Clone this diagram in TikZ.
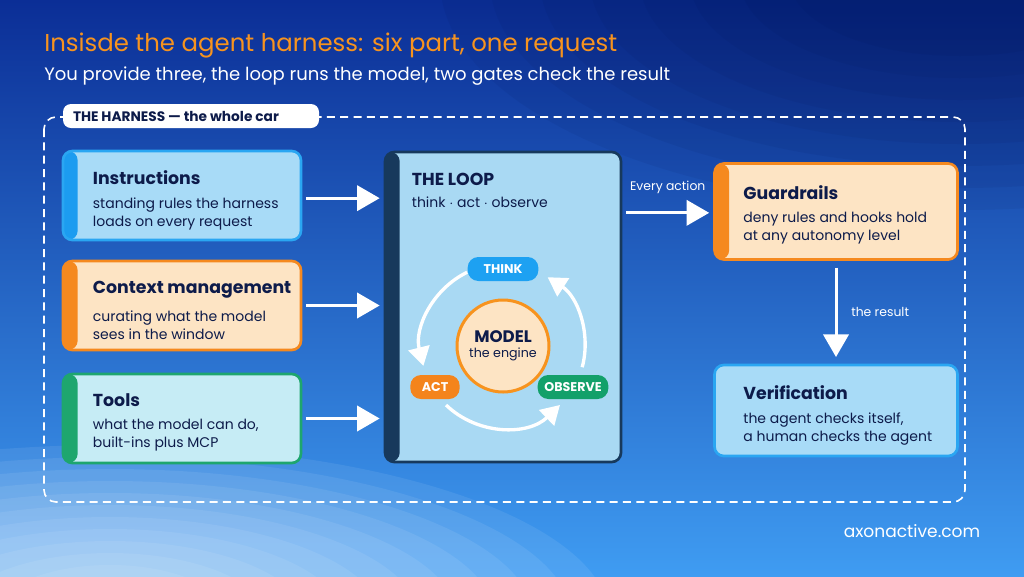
\documentclass[tikz,border=0pt]{standalone}
\usepackage{fontspec}
\setmainfont{Poppins}
\usetikzlibrary{arrows.meta}
\usetikzlibrary{positioning}

\definecolor{navy}{HTML}{0D1B4A}
\definecolor{hdorange}{HTML}{F7931E}
\definecolor{skyfill}{HTML}{A8DBF7}
\definecolor{skyline}{HTML}{2AA6F2}
\definecolor{skystripe}{HTML}{1C9CF0}
\definecolor{creamfill}{HTML}{FDE4C4}
\definecolor{orangeline}{HTML}{F5891F}
\definecolor{mintfill}{HTML}{C6ECF5}
\definecolor{greenline}{HTML}{1EA66E}
\definecolor{loopfill}{HTML}{A9D9F3}
\definecolor{loopline}{HTML}{17395C}
\definecolor{thinkblue}{HTML}{1DA1F2}
\definecolor{actorange}{HTML}{F4841C}
\definecolor{obsgreen}{HTML}{12A06A}
\definecolor{bgtop}{HTML}{0B2E96}
\definecolor{bgmid}{HTML}{075CE8}
\definecolor{bgbot}{HTML}{3F9CF2}
\definecolor{bgdark}{HTML}{04124F}

\tikzset{
    card/.style={rounded corners=7pt, line width=2pt, inner sep=0pt},
    stripe/.style={path picture={\fill[#1] (path picture bounding box.south west) rectangle ([xshift=11pt]path picture bounding box.north west);}},
    head/.style={anchor=north west, inner sep=0pt, text=navy, font=\fontsize{13}{15}\selectfont\bfseries},
    desc/.style={anchor=north west, inner sep=0pt, align=left, text=navy, font=\fontsize{10.5}{13.5}\selectfont},
    pill/.style={rounded corners=8pt, inner sep=0pt, minimum height=18pt, text=white, font=\fontsize{9.5}{11}\selectfont\bfseries},
    bigarrow/.style={white, line width=2.25pt, -{Triangle[length=17pt,width=19pt]}},
    cyc/.style={white, line width=2.5pt, -{Triangle[length=14pt,width=16pt]}},
    note/.style={text=white, font=\fontsize{9.3}{11}\selectfont}
}

\begin{document}
\begin{tikzpicture}[x=0.75pt, y=-0.75pt]
\useasboundingbox (0,0) rectangle (1024,576);
% background
\shade[top color=bgtop, middle color=bgmid, bottom color=bgbot] (0,0) rectangle (1024,576);
\foreach \i in {0,...,11}
    \fill[white, opacity=0.08] (110,620) ellipse ({500-38*\i} and {175-12*\i});
\foreach \i in {0,...,7}
    \fill[bgdark, opacity=0.07] (960,-20) ellipse ({520-50*\i} and {230-22*\i});

% title
\node[anchor=west, inner sep=0pt, text=hdorange, font=\fontsize{18.3}{21}\selectfont] (title) at (44,46) {Insisde the agent harness: six part, one request};
\node[anchor=west, inner sep=0pt, text=white, font=\fontsize{13.5}{16}\selectfont] (subtitle) at (44,76) {You provide three, the loop runs the model, two gates check the result};

% harness frame
\draw[white, line width=1.2pt, dash pattern=on 6pt off 4pt, rounded corners=9pt] (44,117) rectangle (965,502);
\node[fill=white, rounded corners=6pt, minimum width=192pt, minimum height=18pt, inner sep=0pt] (harness) at (191,116) {};
\node[anchor=west, inner sep=0pt, text=navy, font=\fontsize{10.3}{12}\selectfont\bfseries] (harnesstext) at ([xshift=7.5pt]harness.west) {THE HARNESS --- the whole car};

% the three inputs
\node[card, draw=skyline, fill=skyfill, stripe=skystripe, minimum width=178.5pt, minimum height=66.75pt] (instr) at (182,195.5) {};
\node[head] (instrhead) at ([shift={(31,21)}]instr.north west) {Instructions};
\node[desc, below=9pt of instrhead.south west, anchor=north west] (instrdesc) {standing rules the harness\\loads on every request};

\node[card, draw=orangeline, fill=creamfill, stripe=orangeline, minimum width=178.5pt, minimum height=66.75pt] (ctx) at (182,305.5) {};
\node[head] (ctxhead) at ([shift={(31,21)}]ctx.north west) {Context management};
\node[desc, below=9pt of ctxhead.south west, anchor=north west] (ctxdesc) {curating what the model\\sees in the window};

\node[card, draw=greenline, fill=mintfill, stripe=greenline, minimum width=178.5pt, minimum height=66.75pt] (tools) at (182,418.5) {};
\node[head] (toolshead) at ([shift={(31,21)}]tools.north west) {Tools};
\node[desc, below=9pt of toolshead.south west, anchor=north west] (toolsdesc) {what the model can do,\\built-ins plus MCP};

% the loop
\node[card, draw=loopline, fill=loopfill, stripe=loopline, minimum width=177pt, minimum height=232.5pt] (loop) at (503,307) {};
\node[head] (loophead) at ([shift={(28,22)}]loop.north west) {THE LOOP};
\node[desc, below=8pt of loophead.south west, anchor=north west] (loopdesc) {think $\cdot$ act $\cdot$ observe};

\coordinate (C) at (503,346);
\node[circle, draw=hdorange, line width=2.25pt, fill=creamfill, minimum size=69pt, inner sep=0pt, align=center, text=navy] (model) at (C) {{\fontsize{12.5}{14}\selectfont\bfseries MODEL}\\[-1pt]{\fontsize{9.5}{11}\selectfont the engine}};
\node[pill, fill=thinkblue, minimum width=53pt] (think) at (503,269) {THINK};
\node[pill, fill=actorange, minimum width=37pt] (act) at (435,387) {ACT};
\node[pill, fill=obsgreen, minimum width=53pt] (observe) at (573,387) {OBSERVE};

% cycle arrows
\draw[cyc] ([shift={(244:82)}]C) arc[start angle=244, end angle=166, radius=82];
\draw[cyc] ([shift={(134:82)}]C) arc[start angle=134, end angle=46, radius=82];
\draw[cyc] ([shift={(15:82)}]C) arc[start angle=15, end angle=-57, radius=82];

% gates
\node[card, draw=orangeline, fill=creamfill, stripe=orangeline, minimum width=182.25pt, minimum height=72pt] (guard) at (836,211.5) {};
\node[head] (guardhead) at ([shift={(30,23)}]guard.north west) {Guardrails};
\node[desc, below=9pt of guardhead.south west, anchor=north west] (guarddesc) {deny rules and hooks hold\\at any autonomy level};

\node[card, draw=skyline, fill=skyfill, minimum width=182.25pt, minimum height=68.25pt] (verif) at (836,410.5) {};
\node[head] (verifhead) at ([shift={(30,22)}]verif.north west) {Verification};
\node[desc, below=9pt of verifhead.south west, anchor=north west] (verifdesc) {the agent checks itself,\\a human checks the agent};

% connectors
\draw[bigarrow, shorten <=3pt, shorten >=3pt] ([yshift=-2pt]instr.east) -- ([yshift=-2pt]instr.east -| loop.west);
\draw[bigarrow, shorten <=3pt, shorten >=3pt] (ctx.east) -- (ctx.east -| loop.west);
\draw[bigarrow, shorten <=3pt, shorten >=3pt] (tools.east) -- (tools.east -| loop.west);
\draw[bigarrow, shorten <=3pt, shorten >=3pt] ([yshift=-1pt]guard.west -| loop.east) -- ([yshift=-1pt]guard.west) node[note, pos=0.5, above=10pt] (every) {Every action};
\draw[bigarrow, shorten <=5pt, shorten >=5pt] (guard.south) -- (verif.north) node[note, pos=0.5, right=7pt] (result) {the result};

% footer
\node[text=white, inner sep=0pt, font=\fontsize{12.8}{15}\selectfont] (site) at (912,531) {axonactive.com};
\end{tikzpicture}
\end{document}
